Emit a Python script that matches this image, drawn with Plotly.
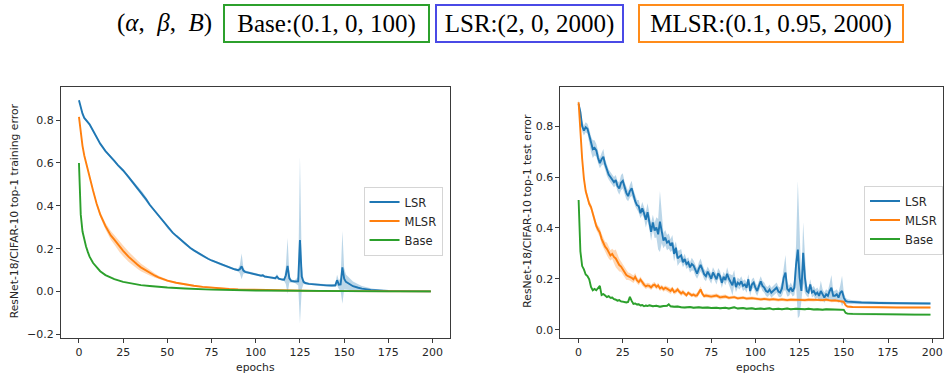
import plotly.graph_objects as go

# ---------------- data ----------------
# Training error (left panel)
lsr_train_ep = [0, 1, 2, 3, 4, 5, 6, 8, 10, 12, 15, 18, 20, 22, 25, 28, 30, 33, 35, 36, 38, 40, 43, 45,
                48, 50, 53, 55, 58, 60, 63, 65, 68, 70, 73, 75, 78, 80, 83, 85, 88, 90, 91, 92, 93, 94,
                96, 100, 103, 104, 105, 108, 110, 111, 112, 113, 115, 116, 117, 118, 119, 120, 122, 124,
                125, 126, 127, 128, 130, 133, 135, 138, 140, 143, 145, 146, 147, 148, 149, 150, 151, 153,
                155, 158, 160, 165, 170, 175, 180, 190, 199]
lsr_train = [0.893, 0.86, 0.83, 0.81, 0.80, 0.79, 0.78, 0.75, 0.72, 0.69, 0.655, 0.63, 0.61, 0.59, 0.565,
             0.535, 0.515, 0.485, 0.465, 0.452, 0.43, 0.405, 0.375, 0.355, 0.325, 0.30, 0.275, 0.26,
             0.237, 0.222, 0.203, 0.192, 0.176, 0.166, 0.153, 0.145, 0.135, 0.128, 0.12, 0.113, 0.104,
             0.10, 0.104, 0.118, 0.098, 0.092, 0.088, 0.08, 0.074, 0.076, 0.07, 0.066, 0.063, 0.062,
             0.07, 0.06, 0.056, 0.055, 0.075, 0.12, 0.062, 0.05, 0.047, 0.048, 0.24, 0.07, 0.045,
             0.04, 0.036, 0.033, 0.032, 0.03, 0.029, 0.028, 0.029, 0.053, 0.032, 0.033, 0.113, 0.06,
             0.045, 0.035, 0.025, 0.018, 0.014, 0.008, 0.004, 0.003, 0.002, 0.001, 0.001]
lsr_train_sd = [0.004, 0.004, 0.004, 0.004, 0.004, 0.004, 0.004, 0.004, 0.004, 0.004, 0.005, 0.005, 0.005,
                0.005, 0.006, 0.006, 0.008, 0.01, 0.012, 0.012, 0.01, 0.008, 0.006, 0.006, 0.006, 0.006,
                0.005, 0.005, 0.005, 0.005, 0.005, 0.005, 0.005, 0.005, 0.005, 0.005, 0.005, 0.005,
                0.005, 0.005, 0.005, 0.006, 0.02, 0.06, 0.015, 0.006, 0.005, 0.005, 0.005, 0.006, 0.005,
                0.005, 0.005, 0.006, 0.012, 0.005, 0.005, 0.006, 0.04, 0.13, 0.02, 0.006, 0.006, 0.02,
                0.39, 0.06, 0.01, 0.006, 0.005, 0.005, 0.005, 0.005, 0.005, 0.005, 0.008, 0.025, 0.02,
                0.03, 0.17, 0.05, 0.035, 0.028, 0.022, 0.016, 0.012, 0.007, 0.004, 0.003, 0.002, 0.001,
                0.001]

mlsr_train_ep = [0, 1, 2, 3, 4, 5, 6, 8, 10, 12, 15, 18, 20, 23, 25, 28, 30, 33, 35, 38, 40, 43, 45, 48,
                 50, 55, 60, 65, 70, 75, 80, 85, 90, 100, 110, 120, 135, 150, 175, 199]
mlsr_train = [0.815, 0.74, 0.68, 0.635, 0.6, 0.565, 0.53, 0.47, 0.41, 0.36, 0.305, 0.262, 0.242, 0.208,
              0.19, 0.163, 0.147, 0.126, 0.113, 0.097, 0.087, 0.074, 0.066, 0.057, 0.051, 0.041, 0.033,
              0.027, 0.022, 0.018, 0.014, 0.012, 0.01, 0.008, 0.006, 0.004, 0.003, 0.002, 0.001, 0.001]
mlsr_train_sd = [0.004, 0.004, 0.004, 0.004, 0.005, 0.005, 0.006, 0.008, 0.01, 0.012, 0.015, 0.02, 0.022,
                 0.024, 0.025, 0.024, 0.022, 0.02, 0.018, 0.015, 0.012, 0.01, 0.008, 0.006, 0.005,
                 0.004, 0.004, 0.004, 0.004, 0.004, 0.003, 0.003, 0.003, 0.002, 0.002, 0.002, 0.001,
                 0.001, 0.001, 0.001]

base_train_ep = [0, 1, 2, 3, 4, 5, 6, 8, 10, 12, 15, 18, 20, 25, 30, 35, 40, 45, 50, 60, 75, 100, 125,
                 150, 175, 199]
base_train = [0.60, 0.36, 0.28, 0.24, 0.21, 0.185, 0.163, 0.133, 0.112, 0.095, 0.077, 0.065, 0.058,
              0.045, 0.036, 0.03, 0.026, 0.022, 0.019, 0.014, 0.009, 0.005, 0.003, 0.002, 0.001, 0.001]

# Test error (right panel)
lsr_test_ep = list(range(0, 153)) + [155, 160, 170, 180, 190, 199]
lsr_test = [
    0.887, 0.855, 0.80, 0.783, 0.796, 0.79, 0.764, 0.73, 0.71, 0.715,
    0.705, 0.675, 0.655, 0.67, 0.68, 0.65, 0.625, 0.61, 0.60, 0.592,
    0.58, 0.588, 0.565, 0.555, 0.578, 0.585, 0.556, 0.538, 0.525, 0.545,
    0.556, 0.53, 0.505, 0.49, 0.485, 0.458, 0.477, 0.458, 0.432, 0.462,
    0.425, 0.385, 0.422, 0.39, 0.402, 0.375, 0.425, 0.39, 0.35, 0.362,
    0.342, 0.348, 0.33, 0.342, 0.298, 0.322, 0.28, 0.287, 0.292, 0.265,
    0.278, 0.258, 0.265, 0.245, 0.258, 0.252, 0.232, 0.22, 0.24, 0.255,
    0.237, 0.218, 0.21, 0.228, 0.215, 0.2, 0.225, 0.212, 0.198, 0.222,
    0.21, 0.184, 0.208, 0.195, 0.22, 0.2, 0.188, 0.174, 0.205, 0.167,
    0.185, 0.178, 0.19, 0.172, 0.178, 0.165, 0.198, 0.152, 0.178, 0.185,
    0.165, 0.152, 0.172, 0.19, 0.172, 0.165, 0.152, 0.148, 0.158, 0.145,
    0.152, 0.16, 0.165, 0.15, 0.146, 0.162, 0.204, 0.224, 0.16, 0.152,
    0.165, 0.15, 0.165, 0.256, 0.315, 0.204, 0.152, 0.302, 0.204, 0.152,
    0.146, 0.178, 0.146, 0.152, 0.139, 0.146, 0.133, 0.152, 0.139, 0.126,
    0.139, 0.133, 0.152, 0.165, 0.133, 0.133, 0.139, 0.126, 0.145, 0.152,
    0.126, 0.113, 0.11,
    0.108, 0.107, 0.105, 0.104, 0.103, 0.103]
lsr_test_sd = [
    0.015, 0.015, 0.02, 0.02, 0.02, 0.02, 0.025, 0.03, 0.035, 0.03,
    0.025, 0.02, 0.02, 0.025, 0.03, 0.02, 0.02, 0.02, 0.02, 0.02,
    0.02, 0.02, 0.02, 0.025, 0.03, 0.03, 0.025, 0.025, 0.02, 0.025,
    0.03, 0.02, 0.02, 0.02, 0.025, 0.02, 0.025, 0.02, 0.03, 0.035,
    0.03, 0.035, 0.03, 0.03, 0.04, 0.06, 0.12, 0.05, 0.03, 0.03,
    0.03, 0.03, 0.025, 0.03, 0.03, 0.025, 0.03, 0.025, 0.025, 0.02,
    0.02, 0.02, 0.02, 0.02, 0.025, 0.02, 0.02, 0.02, 0.025, 0.025,
    0.02, 0.02, 0.02, 0.02, 0.02, 0.02, 0.02, 0.02, 0.02, 0.02,
    0.02, 0.02, 0.02, 0.02, 0.025, 0.02, 0.03, 0.04, 0.03, 0.02,
    0.02, 0.02, 0.02, 0.02, 0.02, 0.02, 0.02, 0.02, 0.02, 0.02,
    0.02, 0.02, 0.02, 0.02, 0.02, 0.02, 0.02, 0.02, 0.02, 0.02,
    0.02, 0.02, 0.02, 0.02, 0.02, 0.03, 0.05, 0.07, 0.03, 0.02,
    0.02, 0.02, 0.03, 0.08, 0.27, 0.15, 0.04, 0.12, 0.06, 0.02,
    0.02, 0.02, 0.02, 0.02, 0.02, 0.02, 0.02, 0.04, 0.02, 0.02,
    0.02, 0.02, 0.03, 0.05, 0.02, 0.02, 0.02, 0.02, 0.03, 0.06,
    0.02, 0.012, 0.01,
    0.008, 0.006, 0.005, 0.004, 0.004, 0.004]

mlsr_test_ep = list(range(0, 73)) + [75, 78, 80, 83, 85, 88, 90, 93, 95, 98, 100, 103, 105, 108, 110,
                                     113, 115, 118, 120, 123, 125, 128, 130, 133, 135, 138, 140, 143,
                                     145, 148, 150, 151, 152, 155, 160, 170, 180, 190, 199]
mlsr_test = [
    0.894, 0.777, 0.672, 0.594, 0.545, 0.52, 0.495, 0.482, 0.455, 0.43,
    0.408, 0.394, 0.382, 0.357, 0.338, 0.326, 0.318, 0.305, 0.292, 0.298,
    0.286, 0.28, 0.266, 0.254, 0.248, 0.236, 0.226, 0.215, 0.21, 0.208,
    0.204, 0.198, 0.208, 0.194, 0.187, 0.197, 0.185, 0.177, 0.17, 0.174,
    0.172, 0.166, 0.174, 0.177, 0.168, 0.174, 0.162, 0.167, 0.159, 0.164,
    0.161, 0.155, 0.152, 0.16, 0.148, 0.151, 0.158, 0.149, 0.142, 0.148,
    0.142, 0.135, 0.145, 0.141, 0.135, 0.138, 0.133, 0.135, 0.147, 0.158,
    0.141, 0.132, 0.134,
    0.13, 0.134, 0.127, 0.13, 0.125, 0.128, 0.123, 0.126, 0.122, 0.124, 0.123, 0.119, 0.121, 0.118,
    0.12, 0.117, 0.119, 0.116, 0.118, 0.117, 0.119, 0.116, 0.118, 0.117, 0.119, 0.116, 0.118, 0.114,
    0.115, 0.113, 0.109, 0.096, 0.091, 0.089, 0.088, 0.088, 0.087, 0.087, 0.087]
mlsr_test_sd = [
    0.01, 0.01, 0.01, 0.012, 0.012, 0.012, 0.012, 0.012, 0.015, 0.015,
    0.015, 0.015, 0.018, 0.02, 0.02, 0.02, 0.025, 0.025, 0.02, 0.02,
    0.025, 0.035, 0.03, 0.025, 0.02, 0.02, 0.02, 0.02, 0.015, 0.015,
    0.015, 0.015, 0.015, 0.012, 0.012, 0.012, 0.012, 0.01, 0.01, 0.01,
    0.01, 0.01, 0.01, 0.01, 0.01, 0.01, 0.01, 0.01, 0.01, 0.01,
    0.01, 0.01, 0.012, 0.01, 0.01, 0.01, 0.01, 0.01, 0.01, 0.01,
    0.01, 0.008, 0.008, 0.008, 0.008, 0.008, 0.008, 0.01, 0.012, 0.012,
    0.01, 0.008, 0.008,
    0.008, 0.008, 0.008, 0.008, 0.006, 0.006, 0.006, 0.006, 0.006, 0.006, 0.006, 0.006, 0.006,
    0.006, 0.006, 0.006, 0.006, 0.006, 0.006, 0.006, 0.006, 0.006, 0.006, 0.006, 0.006, 0.006,
    0.006, 0.006, 0.006, 0.006, 0.006, 0.005, 0.004, 0.003, 0.003, 0.003, 0.003, 0.003, 0.003]

base_test_ep = list(range(0, 41)) + [42, 44, 46, 48, 50, 51, 52, 54, 56, 58, 60, 63, 65, 68, 70, 73, 75,
                                     78, 80, 83, 85, 88, 90, 93, 95, 98, 100, 103, 105, 108, 110, 113,
                                     115, 118, 120, 123, 125, 128, 130, 133, 135, 138, 140, 143, 145,
                                     148, 150, 151, 152, 155, 160, 170, 180, 190, 199]
base_test = [
    0.51, 0.308, 0.25, 0.237, 0.217, 0.211, 0.198, 0.168, 0.155, 0.16,
    0.155, 0.165, 0.172, 0.136, 0.14, 0.134, 0.128, 0.132, 0.125, 0.126,
    0.12, 0.118, 0.114, 0.116, 0.111, 0.11, 0.108, 0.107, 0.109, 0.129,
    0.113, 0.101, 0.103, 0.099, 0.1, 0.095, 0.097, 0.092, 0.095, 0.093,
    0.096,
    0.092, 0.094, 0.09, 0.093, 0.094, 0.1, 0.092, 0.09, 0.091, 0.088, 0.087, 0.089, 0.086, 0.088,
    0.086, 0.087, 0.085, 0.086, 0.084, 0.086, 0.083, 0.088, 0.083, 0.085, 0.082, 0.084, 0.081,
    0.083, 0.081, 0.084, 0.08, 0.082, 0.08, 0.083, 0.08, 0.082, 0.081, 0.08, 0.082, 0.079, 0.08,
    0.078, 0.08, 0.079, 0.078, 0.079, 0.078, 0.066, 0.063, 0.062, 0.061, 0.06, 0.06, 0.059, 0.059]
base_test_sd = [0.004] * len(base_test)

xticks = [0, 25, 50, 75, 100, 125, 150, 175, 200]
yticks_train = [-0.2, 0.0, 0.2, 0.4, 0.6, 0.8]
yticks_train_text = ["\u22120.2", "0.0", "0.2", "0.4", "0.6", "0.8"]
yticks_test = [0.0, 0.2, 0.4, 0.6, 0.8]
yticks_test_text = ["0.0", "0.2", "0.4", "0.6", "0.8"]

names = ["LSR", "MLSR", "Base"]
colors = ["#1f77b4", "#ff7f0e", "#2ca02c"]
fills = ["rgba(31,119,180,0.3)", "rgba(255,127,14,0.3)", "rgba(44,160,44,0.3)"]

W, H = 944, 378

fig = go.Figure()


def add_band(ep, mean, sd, fill, xa, ya):
    up = [m + s for m, s in zip(mean, sd)]
    lo = [m - s for m, s in zip(mean, sd)]
    fig.add_trace(go.Scatter(x=ep + ep[::-1], y=up + lo[::-1], fill="toself", fillcolor=fill,
                             line=dict(width=0), mode="lines", hoverinfo="skip", showlegend=False,
                             xaxis=xa, yaxis=ya))


# left panel bands
add_band(lsr_train_ep, lsr_train, lsr_train_sd, fills[0], "x", "y")
add_band(mlsr_train_ep, mlsr_train, mlsr_train_sd, fills[1], "x", "y")
# right panel bands
add_band(lsr_test_ep, lsr_test, lsr_test_sd, fills[0], "x2", "y2")
add_band(mlsr_test_ep, mlsr_test, mlsr_test_sd, fills[1], "x2", "y2")
add_band(base_test_ep, base_test, base_test_sd, fills[2], "x2", "y2")

left_series = [(lsr_train_ep, lsr_train), (mlsr_train_ep, mlsr_train), (base_train_ep, base_train)]
right_series = [(lsr_test_ep, lsr_test), (mlsr_test_ep, mlsr_test), (base_test_ep, base_test)]

for i, (ep, vals) in enumerate(left_series):
    fig.add_trace(go.Scatter(x=ep, y=vals, mode="lines", name=names[i],
                             line=dict(color=colors[i], width=1.9), xaxis="x", yaxis="y",
                             legend="legend"))
for i, (ep, vals) in enumerate(right_series):
    fig.add_trace(go.Scatter(x=ep, y=vals, mode="lines", name=names[i],
                             line=dict(color=colors[i], width=1.9), xaxis="x2", yaxis="y2",
                             legend="legend2"))

tickfont = dict(family="DejaVu Sans", size=11, color="#262626")
ax_common = dict(showgrid=False, zeroline=False, showline=True, mirror=True, linecolor="#3a3a3a",
                 linewidth=1, ticks="outside", ticklen=4, tickwidth=1, tickcolor="#3a3a3a",
                 tickfont=tickfont)

ydom = [(H - 341) / H, (H - 88) / H]
legfont = dict(family="DejaVu Sans", size=11.5, color="#262626")

fig.update_layout(
    width=W, height=H,
    margin=dict(l=0, r=0, t=0, b=0),
    paper_bgcolor="white", plot_bgcolor="white",
    xaxis=dict(domain=[61 / W, 450 / W], range=[-10.2, 209.6], tickvals=xticks, anchor="y", **ax_common),
    yaxis=dict(domain=ydom, range=[-0.218, 0.953], tickvals=yticks_train, ticktext=yticks_train_text,
               anchor="x", **ax_common),
    xaxis2=dict(domain=[561 / W, 1.0], range=[-10.3, 206.1], tickvals=xticks, anchor="y2", **ax_common),
    yaxis2=dict(domain=ydom, range=[-0.034, 0.953], tickvals=yticks_test, ticktext=yticks_test_text,
                anchor="x2", **ax_common),
    legend=dict(x=443 / W, xanchor="right", y=(H - 188) / H, yanchor="top", bgcolor="rgba(255,255,255,0.85)",
                bordercolor="#d5d5d5", borderwidth=1, font=legfont, tracegroupgap=0),
    legend2=dict(x=1.0, xanchor="right", y=(H - 187) / H, yanchor="top", bgcolor="rgba(255,255,255,0.85)",
                 bordercolor="#d5d5d5", borderwidth=1, font=legfont, tracegroupgap=0),
    showlegend=True,
)

lab = dict(family="DejaVu Sans", size=10.8, color="#262626")
yc = (H - 212) / H
annotations = [
    dict(text="epochs", x=256 / W, y=(H - 370) / H, xref="paper", yref="paper", showarrow=False,
         xanchor="center", yanchor="middle", font=lab),
    dict(text="epochs", x=756 / W, y=(H - 370) / H, xref="paper", yref="paper", showarrow=False,
         xanchor="center", yanchor="middle", font=lab),
    dict(text="ResNet-18/CIFAR-10 top-1 training error", x=14 / W, y=yc, xref="paper", yref="paper",
         showarrow=False, textangle=-90, xanchor="center", yanchor="middle", font=lab),
    dict(text="ResNet-18/CIFAR-10 top-1 test error", x=528 / W, y=yc, xref="paper", yref="paper",
         showarrow=False, textangle=-90, xanchor="center", yanchor="middle", font=lab),
]

hfont = dict(family="Liberation Serif", size=25, color="black")
hy = (H - 23.5) / H
annotations.append(dict(text="(<i>α</i>,  <i>β</i>,  <i>B</i>)", x=165 / W, y=hy, xref="paper", yref="paper",
                        showarrow=False, xanchor="center", yanchor="middle", font=hfont))
boxes = [("Base:(0.1, 0, 100)", 223, 430, "#2ca02c"),
         ("LSR:(2, 0, 2000)", 436, 625, "#4a4ae6"),
         ("MLSR:(0.1, 0.95, 2000)", 639, 905, "#ff8c1a")]
for txt, x0, x1, col in boxes:
    annotations.append(dict(text=txt, x=(x0 + x1) / 2 / W, y=hy, xref="paper", yref="paper", showarrow=False,
                            xanchor="center", yanchor="middle", font=hfont, bordercolor=col, borderwidth=2,
                            borderpad=3, width=(x1 - x0) - 10, height=29, align="center",
                            bgcolor="white"))
fig.update_layout(annotations=annotations)

fig.write_html("out.html")
